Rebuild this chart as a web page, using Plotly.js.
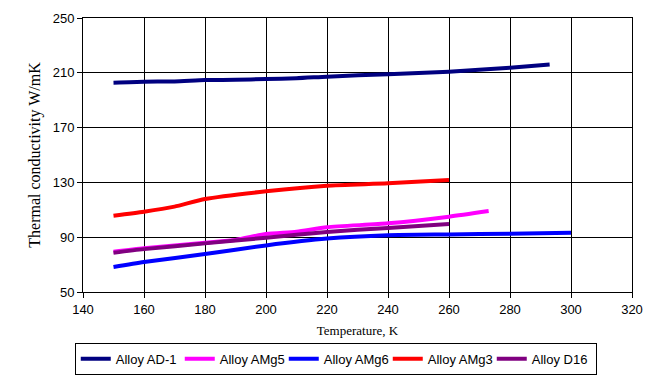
<!DOCTYPE html>
<html>
<head>
<meta charset="utf-8">
<script src="https://cdn.plot.ly/plotly-3.0.1.min.js"></script>
<style>html,body{margin:0;padding:0;background:#fff;}#chart{width:662px;height:379px;}</style>
</head>
<body>
<div id="chart"></div>
<script>
const seriesNames = ["Alloy AD-1", "Alloy AMg5", "Alloy AMg6", "Alloy AMg3", "Alloy D16"];
const seriesColors = ["#000080", "#FF00FF", "#0000FF", "#FF0000", "#800080"];

const tempAD1 = [150, 160, 170, 180, 190, 200, 210, 220, 240, 260, 280, 293];
const valAD1  = [202.8, 203.5, 203.7, 204.7, 204.9, 205.5, 206.0, 207.2, 209.0, 210.8, 213.7, 216.0];

const tempAMg5 = [150, 160, 180, 190, 200, 210, 220, 240, 260, 273];
const valAMg5  = [79.4, 81.9, 86.0, 88.0, 92.3, 94.0, 97.3, 100.1, 105.0, 109.1];

const tempAMg6 = [150, 160, 180, 200, 220, 240, 260, 280, 300];
const valAMg6  = [68.2, 71.9, 77.7, 84.0, 89.0, 91.4, 92.0, 92.6, 93.3];

const tempAMg3 = [150, 160, 170, 180, 200, 220, 240, 260];
const valAMg3  = [105.7, 108.6, 112.3, 117.9, 123.5, 127.6, 129.3, 131.8];

const tempD16 = [150, 160, 180, 200, 220, 240, 260];
const valD16  = [78.7, 81.3, 85.5, 89.6, 93.8, 96.8, 99.6];

const xs = [tempAD1, tempAMg5, tempAMg6, tempAMg3, tempD16];
const ys = [valAD1, valAMg5, valAMg6, valAMg3, valD16];

const traces = seriesNames.map((n, i) => ({
  type: "scatter", mode: "lines", name: n,
  x: xs[i], y: ys[i],
  line: {color: seriesColors[i], width: 4, shape: "spline", smoothing: 0.6}
}));

const layout = {
  width: 662, height: 379,
  margin: {l: 83, r: 30, t: 18, b: 87, autoexpand: false},
  paper_bgcolor: "#fff", plot_bgcolor: "#fff",
  font: {family: "Liberation Sans, Arial, sans-serif", size: 13, color: "#000"},
  showlegend: true,
  xaxis: {
    range: [140, 320], dtick: 20, tick0: 140,
    showgrid: true, gridcolor: "#000", gridwidth: 1,
    showline: true, linecolor: "#000", linewidth: 1, mirror: true,
    ticks: "outside", ticklen: 5, tickcolor: "#000",
    zeroline: false, automargin: false,
    tickfont: {family: "Liberation Sans, Arial, sans-serif", size: 13},
    title: {text: "Temperature, K", font: {family: "Liberation Serif, Times New Roman, serif", size: 13}, standoff: 10}
  },
  yaxis: {
    range: [50, 250], dtick: 40, tick0: 50,
    showgrid: true, gridcolor: "#000", gridwidth: 1,
    showline: true, linecolor: "#000", linewidth: 1, mirror: true,
    ticks: "outside", ticklen: 5, tickcolor: "#000",
    zeroline: false, automargin: false,
    tickfont: {family: "Liberation Sans, Arial, sans-serif", size: 13},
    title: {text: "Thermal conductivity W/mK", font: {family: "Liberation Serif, Times New Roman, serif", size: 16}, standoff: 8}
  },
  legend: {
    orientation: "h", x: -0.015, xanchor: "left", y: -0.185, yanchor: "top",
    bordercolor: "#000", borderwidth: 1, bgcolor: "#fff",
    font: {family: "Liberation Sans, Arial, sans-serif", size: 13},
    entrywidth: 59, entrywidthmode: "pixels",
    itemwidth: 30, tracegroupgap: 0
  }
};

Plotly.newPlot("chart", traces, layout, {displayModeBar: false, staticPlot: true});
</script>
</body>
</html>
